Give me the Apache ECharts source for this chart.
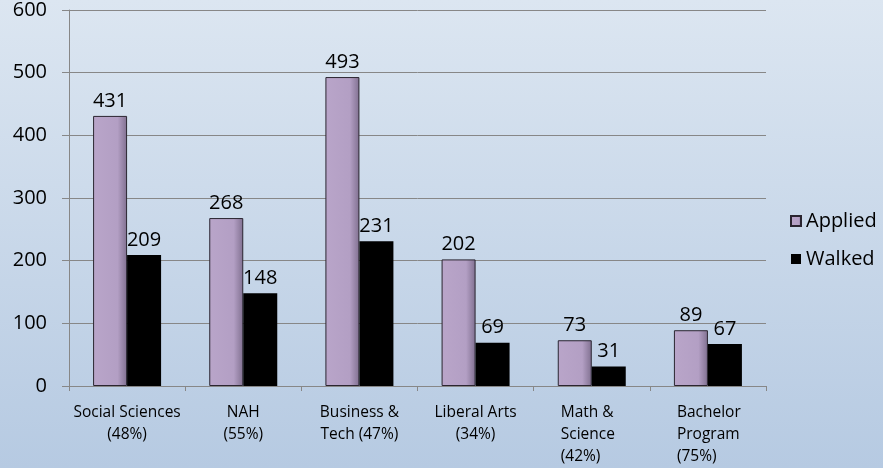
<!DOCTYPE html>
<html>
<head>
<meta charset="utf-8">
<script src="https://cdn.jsdelivr.net/npm/echarts@6/dist/echarts.min.js"></script>
<style>
  html, body { margin: 0; padding: 0; }
  #chart { width: 883px; height: 468px; }
</style>
</head>
<body>
<div id="chart"></div>
<script>
// categories, values
var categories = ['Social Sciences\n(48%)', 'NAH\n(55%)', 'Business &\nTech (47%)', 'Liberal Arts\n(34%)', 'Math &\nScience\n(42%)', 'Bachelor\nProgram\n(75%)'];
var applied = [431, 268, 493, 202, 73, 89];
var walked = [209, 148, 231, 69, 31, 67];
var yTicks = [0, 100, 200, 300, 400, 500, 600];

var dom = document.getElementById('chart');
var myChart = echarts.init(dom);

var font = '"Open Sans", "DejaVu Sans", sans-serif';

myChart.setOption({
    backgroundColor: new echarts.graphic.LinearGradient(0, 0, 0, 1, [
        { offset: 0, color: '#dce6f1' },
        { offset: 1, color: '#b6cae2' }
    ]),
    textStyle: { fontFamily: font },
    grid: {
        left: 69,
        right: 117,
        top: 8,
        bottom: 82
    },
    legend: {
        orient: 'vertical',
        left: 785,
        top: 206,
        icon: 'rect',
        itemWidth: 10,
        itemHeight: 10,
        itemGap: 18,
        data: ['Applied', 'Walked'],
        textStyle: { fontSize: 20, color: '#000', fontFamily: font, padding: [6, 0, 0, 0] }
    },
    xAxis: {
        type: 'category',
        data: categories,
        axisLine: { lineStyle: { color: '#878787', width: 1 } },
        axisTick: { show: true, length: 5, lineStyle: { color: '#878787' } },
        axisLabel: {
            fontSize: 15.5,
            lineHeight: 22,
            color: '#000',
            margin: 16,
            interval: 0,
            formatter: function (v, i) {
                if (i >= 4) {
                    return v.split('\n').map(function (s) { return '{l|' + s + '}'; }).join('\n');
                }
                return v;
            },
            rich: {
                l: { width: 62, align: 'left', fontSize: 15.5, lineHeight: 22, color: '#000' }
            }
        }
    },
    yAxis: {
        type: 'value',
        min: yTicks[0],
        max: yTicks[yTicks.length - 1],
        interval: 100,
        axisLine: { show: true, lineStyle: { color: '#878787' } },
        axisTick: { show: true, length: 7, lineStyle: { color: '#878787' } },
        axisLabel: { fontSize: 20, color: '#000', margin: 22 },
        splitLine: { show: true, lineStyle: { color: '#878787', width: 1 } }
    },
    series: [
        {
            name: 'Applied',
            type: 'bar',
            data: applied,
            barWidth: 34,
            barGap: '0%',
            itemStyle: {
                color: new echarts.graphic.LinearGradient(0, 0, 1, 0, [
                    { offset: 0, color: '#b9a5c9' },
                    { offset: 0.72, color: '#b39fc4' },
                    { offset: 1, color: '#807090' }
                ]),
                borderColor: '#2a2530',
                borderWidth: 1
            },
            label: { show: true, position: 'top', distance: 5, fontSize: 20, color: '#000' }
        },
        {
            name: 'Walked',
            type: 'bar',
            data: walked,
            barWidth: 34,
            itemStyle: {
                color: '#000000',
                borderColor: '#000000',
                borderWidth: 0
            },
            label: { show: true, position: 'top', distance: 5, fontSize: 20, color: '#000' }
        }
    ]
});
window.addEventListener('resize', function () {
    myChart.resize();
});
</script>
</body>
</html>
